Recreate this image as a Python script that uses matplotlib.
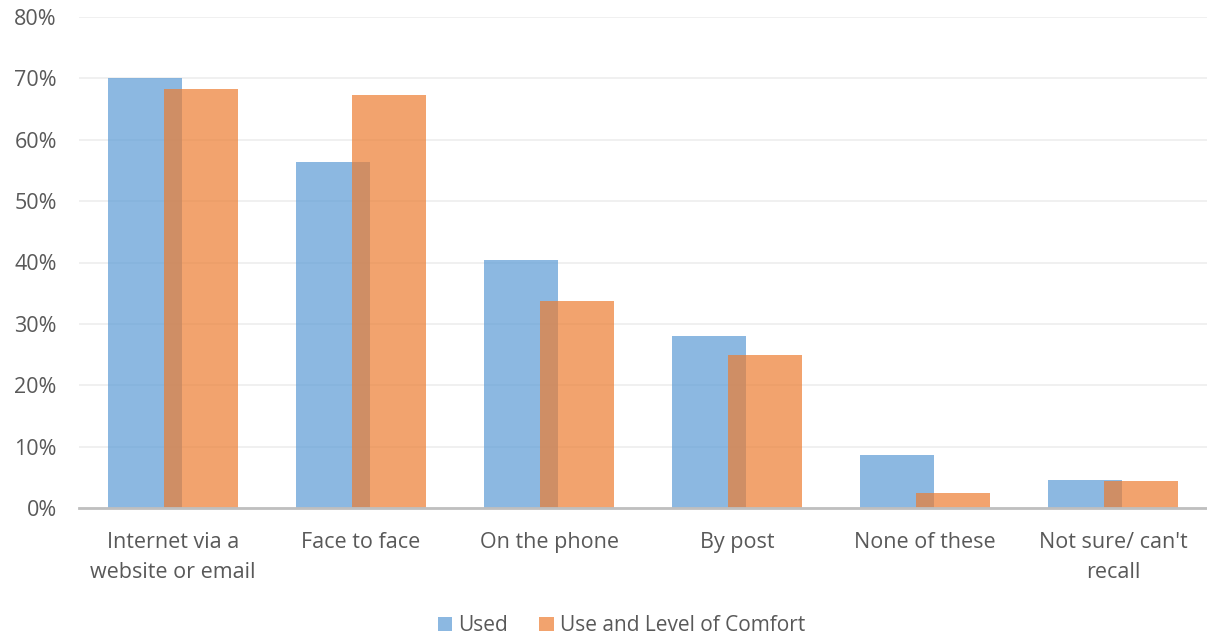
import matplotlib
matplotlib.use("Agg")
import matplotlib.pyplot as plt
import numpy as np
from matplotlib.ticker import PercentFormatter

categories = ["Internet via a\nwebsite or email", "Face to face", "On the phone",
              "By post", "None of these", "Not sure/ can't\nrecall"]
used = [70.0, 56.4, 40.4, 28.1, 8.7, 4.5]
comfort = [68.2, 67.3, 33.7, 24.9, 2.5, 4.4]
series_names = ["Used", "Use and Level of Comfort"]

plt.rcParams["font.family"] = ["Open Sans", "DejaVu Sans"]
text_color = "#595959"

fig = plt.figure(figsize=(12.07, 6.36), dpi=100)
ax = fig.add_axes([79 / 1207, (636 - 508) / 636, 1 - 79 / 1207, (508 - 17) / 636])

x = np.arange(len(categories))
width = 0.394
offset = 0.149
ax.bar(x - offset, used, width, color="#5B9BD5", alpha=0.7, label=series_names[0], zorder=3)
ax.bar(x + offset, comfort, width, color="#ED7D31", alpha=0.7, label=series_names[1], zorder=3)

ax.set_xlim(-0.5, len(categories) - 0.5)
ax.set_ylim(0, 80)
ax.set_yticks(np.arange(0, 81, 10))
ax.yaxis.set_major_formatter(PercentFormatter(decimals=0))
ax.grid(axis="y", color="#EDEDED", linewidth=1.2, zorder=0)

for side in ["top", "right", "left"]:
    ax.spines[side].set_visible(False)
ax.spines["bottom"].set_color("#BFBFBF")
ax.spines["bottom"].set_linewidth(2)
ax.spines["bottom"].set_zorder(4)

ax.set_xticks(x)
ax.set_xticklabels(categories, linespacing=1.6)
ax.tick_params(axis="x", length=0, pad=17, labelsize=15.5, labelcolor=text_color)
ax.tick_params(axis="y", length=0, pad=16, labelsize=15.5, labelcolor=text_color)

leg = fig.legend(loc="lower center", bbox_to_anchor=(0.515, -0.03), ncol=2, frameon=False,
                 fontsize=15, handlelength=0.7, handleheight=0.7, handletextpad=0.3,
                 columnspacing=1.5)
for t in leg.get_texts():
    t.set_color(text_color)

fig.savefig("out.png", dpi=100)
